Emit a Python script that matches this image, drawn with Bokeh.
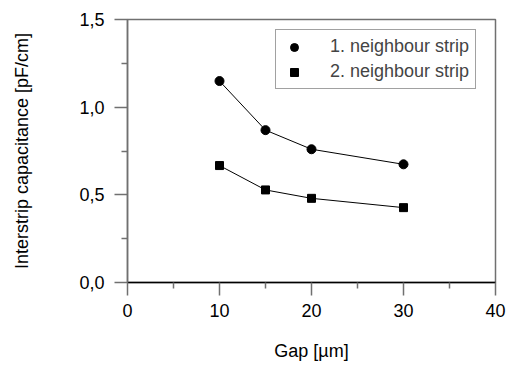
from bokeh.plotting import figure
from bokeh.models import Range1d, FixedTicker, Legend, LegendItem
from bokeh.embed import file_html
from bokeh.resources import INLINE

gap = [10, 15, 20, 30]
cap_first = [1.149, 0.869, 0.760, 0.674]
cap_second = [0.667, 0.528, 0.480, 0.427]

x_ticks = [0, 10, 20, 30, 40]
x_minor = [5, 15, 25, 35]
y_ticks = [0.0, 0.5, 1.0, 1.5]
y_minor = [0.25, 0.75, 1.25]
y_labels = ["0,0", "0,5", "1,0", "1,5"]

FONT = "Liberation Sans"
FS = "18px"
GRAY = "#707070"

p = figure(width=507, height=373, output_backend="svg", toolbar_location=None,
           x_range=Range1d(0, 40), y_range=Range1d(0, 1.5),
           min_border_left=127, min_border_right=12, min_border_top=19, min_border_bottom=91)
p.background_fill_color = "white"
p.border_fill_color = "white"
p.grid.visible = False
p.outline_line_color = GRAY
p.outline_line_width = 1.5

xa = p.xaxis[0]
xa.ticker = FixedTicker(ticks=x_ticks, minor_ticks=x_minor)
xa.axis_label = "Gap [µm]"
ya = p.yaxis[0]
ya.ticker = FixedTicker(ticks=y_ticks, minor_ticks=y_minor)
ya.major_label_overrides = {t: l for t, l in zip(y_ticks, y_labels)}
ya.axis_label = "Interstrip capacitance [pF/cm]"

for ax in (xa, ya):
    ax.major_tick_out = 13
    ax.major_tick_in = 0
    ax.minor_tick_out = 6
    ax.minor_tick_in = 0
    ax.major_label_text_font = FONT
    ax.major_label_text_font_size = FS
    ax.major_label_text_color = "black"
    ax.axis_label_text_font = FONT
    ax.axis_label_text_font_size = FS
    ax.axis_label_text_font_style = "normal"
    ax.axis_label_text_color = "black"
    ax.major_tick_line_color = GRAY
    ax.minor_tick_line_color = GRAY
    ax.major_tick_line_width = 1.5
    ax.minor_tick_line_width = 1.5
    ax.axis_line_width = 1.5

xa.axis_line_color = "black"
ya.axis_line_color = GRAY
xa.major_label_standoff = 8
xa.axis_label_standoff = 21
ya.major_label_standoff = 10
ya.axis_label_standoff = 44

p.line(gap, cap_first, line_color="black", line_width=1)
p.line(gap, cap_second, line_color="black", line_width=1)
r1 = p.scatter(gap, cap_first, marker="circle", size=9, fill_color="black", line_color="black")
r2 = p.scatter(gap, cap_second, marker="square", size=8, fill_color="black", line_color="black")

legend = Legend(items=[LegendItem(label="1. neighbour strip", renderers=[r1]),
                       LegendItem(label="2. neighbour strip", renderers=[r2])],
                location=(148, 193))
legend.padding = 6
legend.spacing = 4
legend.glyph_width = 24
legend.glyph_height = 20
legend.label_height = 20
legend.label_standoff = 24
legend.label_text_font = FONT
legend.label_text_font_size = FS
legend.border_line_color = "#444444"
legend.border_line_width = 1.5
legend.margin = 0
p.add_layout(legend, "center")

open("out.html", "w").write(file_html(p, INLINE))
